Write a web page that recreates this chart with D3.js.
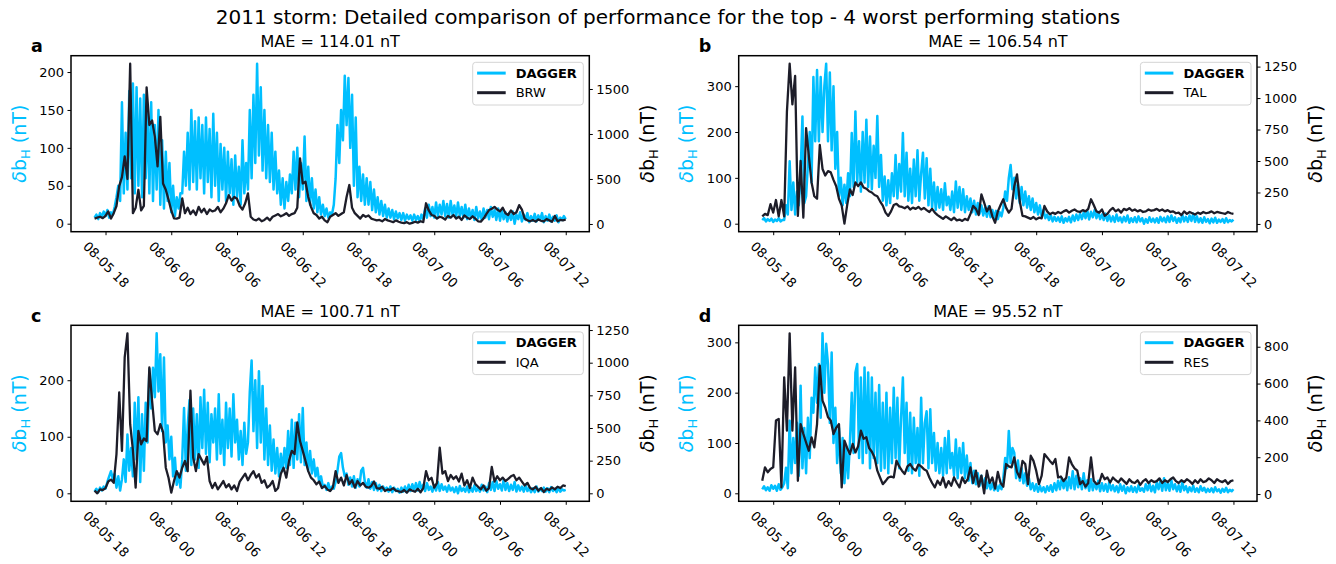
<!DOCTYPE html>
<html>
<head>
<meta charset="utf-8">
<script src="https://cdn.jsdelivr.net/npm/d3@7"></script>
<style>
  body { margin: 0; background: #fff; }
  svg text { font-family: "DejaVu Sans", sans-serif; }
</style>
</head>
<body>
<svg id="chart" width="1336" height="564"></svg>
<script>
// ---- data ----------------------------------------------------------------
const figureTitle = "2011 storm: Detailed comparison of performance for the top - 4 worst performing stations";
const seriesStart = "2011-08-05T17:00:00Z";
const daggerStepMin = 10;   // DAGGER forecast sampling (minutes)
const stationStepMin = 15;  // observed station sampling (minutes)

const panelLetters = ["a", "b", "c", "d"];
const stationNames = ["BRW", "TAL", "IQA", "RES"];
const maeValues = [114.01, 106.54, 100.71, 95.52];

const timeTicks = ["2011-08-05T18:00Z", "2011-08-06T00:00Z", "2011-08-06T06:00Z", "2011-08-06T12:00Z",
                   "2011-08-06T18:00Z", "2011-08-07T00:00Z", "2011-08-07T06:00Z", "2011-08-07T12:00Z"];

const leftTicksA = [0, 50, 100, 150, 200];
const leftTicksB = [0, 100, 200, 300];
const leftTicksC = [0, 100, 200];
const leftTicksD = [0, 100, 200, 300];
const rightTicksA = [0, 500, 1000, 1500];
const rightTicksB = [0, 250, 500, 750, 1000, 1250];
const rightTicksC = [0, 250, 500, 750, 1000, 1250];
const rightTicksD = [0, 200, 400, 600, 800];

// DAGGER predicted dB_H (nT), one row per hour, 10-minute samples
const daggerBRW = [
  8, 12, 6, 14, 9, 16,
  10, 18, 8, 15, 12, 22,
  35, 50, 30, 160, 40, 120,
  45, 175, 60, 185, 40, 180,
  50, 165, 35, 170, 60, 150,
  40, 160, 30, 130, 45, 150,
  25, 110, 20, 95, 30, 80,
  15, 50, 10, 35, 20, 40,
  40, 95, 50, 120, 45, 150,
  55, 135, 45, 140, 60, 130,
  40, 140, 55, 125, 35, 145,
  50, 120, 30, 105, 45, 100,
  30, 95, 40, 85, 25, 90,
  35, 75, 25, 110, 40, 80,
  45, 150, 60, 170, 80, 211,
  90, 180, 70, 150, 60, 130,
  55, 120, 45, 95, 40, 70,
  25, 60, 20, 55, 30, 65,
  40, 95, 45, 100, 35, 80,
  45, 115, 30, 75, 25, 60,
  20, 45, 15, 35, 12, 25,
  10, 20, 8, 15, 12, 25,
  60, 130, 80, 150, 110, 195,
  130, 192, 100, 170, 50, 140,
  35, 75, 30, 65, 25, 60,
  25, 55, 18, 45, 15, 35,
  12, 30, 10, 25, 8, 20,
  8, 18, 6, 16, 7, 14,
  5, 14, 4, 12, 6, 11,
  4, 12, 5, 10, 3, 12,
  6, 20, 8, 25, 10, 22,
  8, 28, 10, 25, 12, 30,
  10, 26, 8, 30, 12, 24,
  9, 28, 10, 22, 8, 25,
  6, 20, 8, 18, 5, 22,
  7, 16, 5, 20, 8, 18,
  6, 22, 9, 18, 5, 20,
  4, 18, 6, 15, 3, 14,
  5, 16, 0, 12, 6, 15,
  3, 12, 5, 14, 2, 10,
  4, 13, 3, 11, 5, 14,
  2, 10, 4, 12, 3, 9,
  4, 11, 2, 8, 5, 10,
  6
];
const daggerTAL = [
  8, 12, 5, 10, 6, 11,
  4, 9, 6, 12, 5, 8,
  8, 40, 20, 136, 30, 90,
  20, 70, 40, 110, 234, 45,
  60, 130, 200, 90, 320, 180,
  335, 180, 320, 200, 300, 349,
  180, 330, 160, 300, 120, 200,
  60, 100, 40, 85, 45, 110,
  60, 198, 80, 245, 90, 180,
  70, 200, 90, 227, 80, 190,
  75, 170, 100, 235, 80, 150,
  50, 103, 40, 95, 45, 110,
  60, 150, 55, 130, 70, 198,
  60, 155, 50, 120, 45, 140,
  60, 160, 50, 110, 155, 55,
  143, 40, 120, 35, 90, 30,
  80, 35, 75, 30, 88, 40,
  59, 30, 70, 25, 92, 35,
  80, 30, 75, 25, 60, 30,
  55, 25, 50, 20, 45, 22,
  40, 18, 35, 15, 38, 14,
  30, 12, 28, 10, 25, 16,
  35, 70, 50, 100, 128, 75,
  100, 55, 90, 45, 80, 40,
  70, 35, 60, 30, 55, 25,
  45, 20, 40, 15, 30, 12,
  20, 8, 18, 5, 15, 6,
  14, 4, 16, 2, 12, 5,
  15, 3, 18, 6, 20, 8,
  22, 10, 25, 12, 28, 9,
  26, 14, 30, 12, 24, 10,
  20, 8, 22, 6, 18, 5,
  16, 4, 20, 6, 14, 3,
  15, 5, 18, 2, 12, 4,
  14, 3, 16, 5, 12, 0,
  10, 2, 14, 4, 11, 3,
  12, 2, 15, 5, 13, 3,
  16, 4, 18, 6, 14, 2,
  12, 3, 20, 5, 15, 4,
  18, 6, 22, 4, 16, 3,
  12, 2, 14, 4, 10, 1,
  11, 3, 13, 2, 9, 4,
  10, 2, 12, 3, 8, 5,
  9
];
const daggerIQA = [
  3, 8, 2, 10, 5, 12,
  8, 20, 30, 39, 25, 35,
  10, 30, 5, 25, 60, 20,
  104, 40, 80, 30, 160, 60,
  170, 20, 140, 40, 160, 90,
  220, 150, 222, 170, 283, 180,
  246, 110, 240, 90, 120, 60,
  100, 30, 63, 15, 35, 10,
  60, 151, 40, 120, 165, 50,
  150, 60, 140, 45, 170, 80,
  183, 70, 160, 55, 140, 90,
  150, 60, 175, 70, 130, 50,
  160, 80, 150, 65, 175, 90,
  130, 60, 110, 50, 125, 70,
  90, 180, 235, 110, 200, 80,
  216, 90, 190, 60, 150, 50,
  120, 40, 95, 35, 80, 30,
  70, 40, 80, 45, 110, 50,
  130, 45, 125, 60, 140, 55,
  151, 50, 90, 40, 75, 35,
  60, 30, 45, 20, 30, 12,
  15, 6, 18, 5, 12, 8,
  20, 40, 65, 71, 45, 30,
  35, 15, 28, 12, 30, 10,
  25, 12, 40, 45, 20, 10,
  25, 8, 20, 6, 18, 5,
  15, 4, 12, 6, 10, 3,
  12, 2, 10, 4, 8, 1,
  10, 3, 12, 2, 15, 4,
  16, 6, 18, 5, 20, 8,
  15, 4, 18, 6, 12, 3,
  14, 5, 20, 4, 16, 6,
  12, 3, 14, 5, 10, 2,
  11, 0, 13, 4, 9, 3,
  12, 2, 10, 3, 14, 4,
  10, 3, 15, 5, 12, 2,
  18, 6, 20, 4, 22, 8,
  16, 5, 24, 6, 18, 4,
  15, 6, 20, 3, 14, 5,
  12, 3, 15, 4, 10, 2,
  9, 2, 12, 3, 8, 4,
  10, 3, 9, 2, 11, 4,
  8, 2, 10, 3, 7, 5,
  6
];
const daggerRES = [
  8, 14, 6, 12, 5, 16,
  9, 15, 5, 18, 7, 12,
  20, 51, 10, 144, 40, 110,
  60, 140, 35, 214, 50, 130,
  40, 150, 70, 190, 160, 250,
  180, 257, 150, 318, 200, 297,
  257, 140, 280, 100, 170, 60,
  130, 40, 110, 20, 90, 30,
  100, 200, 80, 240, 257, 70,
  230, 60, 250, 80, 240, 50,
  230, 70, 200, 60, 215, 45,
  180, 50, 200, 40, 170, 60,
  210, 70, 190, 50, 150, 230,
  80, 180, 45, 160, 40, 150,
  60, 130, 35, 190, 60, 140,
  163, 50, 167, 60, 120, 45,
  100, 40, 90, 35, 110, 40,
  124, 50, 80, 35, 107, 30,
  90, 40, 100, 30, 75, 25,
  60, 20, 45, 18, 40, 15,
  35, 12, 30, 10, 25, 8,
  20, 6, 18, 5, 16, 8,
  30, 70, 50, 124, 60, 90,
  80, 30, 65, 25, 50, 20,
  40, 15, 30, 8, 20, 5,
  18, 3, 15, 4, 12, 2,
  14, 5, 16, 3, 20, 6,
  25, 8, 30, 10, 28, 6,
  32, 10, 44, 8, 35, 12,
  30, 8, 40, 10, 26, 5,
  28, 6, 22, 8, 25, 4,
  20, 5, 18, 3, 22, 6,
  16, 4, 14, 2, 18, 5,
  15, 0, 12, 4, 14, 3,
  12, 2, 16, 5, 10, 3,
  18, 6, 20, 4, 15, 2,
  22, 8, 25, 5, 30, 6,
  20, 5, 26, 8, 18, 4,
  16, 3, 22, 6, 14, 2,
  12, 4, 15, 3, 10, 2,
  14, 5, 11, 2, 9, 3,
  10, 2, 12, 4, 8, 1,
  9, 3, 11, 2, 7, 4,
  8
];

// Observed station dB_H (nT), one row per hour, 15-minute samples
const obsBRW = [
  60, 70, 80, 65,
  90, 140, 60, 120,
  200, 420, 520, 750,
  500, 1781, 120, 180,
  380, 150, 200, 1518,
  1100, 1150, 970, 640,
  1190, 450, 380, 270,
  150, 63, 60, 70,
  285, 120, 180, 110,
  150, 100, 190, 130,
  170, 110, 160, 140,
  150, 190, 130, 170,
  230, 320, 260, 300,
  280, 200, 160, 230,
  340, 80, 50, 40,
  60, 30, 45, 70,
  40, 80, 95, 110,
  85, 100, 120, 90,
  110, 120, 180, 730,
  450, 470, 300, 190,
  120, 100, 60, 80,
  40, 20, 80, 100,
  120, 90, 110, 130,
  300, 433, 180, 120,
  90, 60, 100, 80,
  95, 60, 50, 40,
  45, 30, 55, 40,
  30, 20, 40, 25,
  15, 10, 20, 3,
  12, 25, 15, 30,
  20, 230, 150, 100,
  90, 60, 80, 70,
  50, 90, 70, 100,
  60, 80, 45, 95,
  70, 55, 85, 60,
  30, 26, 60, 110,
  155, 170, 190, 160,
  140, 180, 120, 100,
  150, 110, 130, 210,
  160, 60, 40, 30,
  45, 26, 50, 35,
  30, 55, 40, 25,
  90, 30, 45, 40,
  50
];
const obsTAL = [
  60, 80, 70, 157,
  90, 190, 60, 190,
  60, 890, 1273, 950,
  1176, 64, 500, 50,
  762, 540, 330, 220,
  200, 627, 437, 385,
  420, 410, 350, 300,
  200, 146, 2, 150,
  275, 230, 330, 300,
  330, 290, 280, 260,
  250, 230, 220, 180,
  146, 90, 64, 100,
  150, 160, 140, 135,
  125, 140, 115, 130,
  120, 135, 115, 127,
  110, 95, 120, 90,
  70, 55, 40, 60,
  45, 30, 50, 28,
  35, 24, 40, 30,
  80, 143, 120, 70,
  235, 170, 100, 140,
  60, 10, 100, 150,
  196, 130, 90, 120,
  300, 394, 180, 64,
  60, 50, 40, 55,
  37, 50, 45, 143,
  100, 77, 90, 80,
  95, 85, 100, 110,
  90, 105, 115, 100,
  95, 110, 100, 120,
  196, 150, 100, 90,
  115, 64, 80, 110,
  127, 100, 115, 90,
  120, 110, 125, 105,
  115, 100, 110, 95,
  100, 115, 105, 110,
  120, 105, 115, 100,
  110, 95, 100, 85,
  90, 70, 100, 80,
  95, 85, 75, 90,
  80, 95, 85, 90,
  100, 85, 95, 90,
  85, 80, 95, 85,
  80
];
const obsIQA = [
  20, 0, 30, 25,
  40, 90, 105, 80,
  300, 772, 325, 1040,
  1225, 529, 330, 43,
  478, 375, 420, 400,
  963, 707, 478, 452,
  529, 470, 196, 119,
  5, 94, 170, 120,
  196, 247, 170, 785,
  274, 170, 300, 260,
  220, 280, 94, 40,
  80, 30, 60, 94,
  45, 70, 30, 60,
  18, 90, 120, 150,
  100, 140, 170, 120,
  146, 80, 100, 43,
  60, 94, 18, 40,
  150, 196, 120, 250,
  325, 300, 542, 400,
  325, 248, 170, 120,
  100, 69, 90, 40,
  56, 30, 18, 45,
  170, 80, 120, 60,
  140, 70, 100, 43,
  94, 60, 80, 50,
  43, 56, 90, 40,
  35, 50, 18, 30,
  25, 40, 20, 15,
  10, 25, 5, 30,
  20, 12, 35, 8,
  40, 170, 100, 119,
  43, 80, 350, 150,
  170, 94, 140, 110,
  130, 90, 150, 60,
  100, 40, 120, 70,
  50, 30, 60, 20,
  40, 202, 90, 130,
  100, 120, 94, 110,
  130, 140, 100, 120,
  90, 60, 80, 40,
  30, 50, 20, 40,
  10, 35, 25, 45,
  30, 50, 40, 60,
  55
];
const obsRES = [
  72, 145, 118, 136,
  145, 399, 408, 36,
  634, 344, 873, 344,
  688, 72, 380, 326,
  280, 235, 308, 254,
  380, 697, 507, 470,
  417, 400, 326, 360,
  380, 36, 290, 250,
  217, 272, 226, 260,
  344, 300, 308, 250,
  230, 199, 127, 90,
  54, 70, 90, 95,
  90, 181, 150, 127,
  109, 150, 163, 140,
  127, 160, 150, 135,
  127, 90, 60, 36,
  72, 50, 90, 36,
  70, 45, 90, 60,
  36, 90, 60, 80,
  145, 60, 127, 40,
  100, 4, 127, 60,
  90, 30, 120, 60,
  40, 163, 150, 145,
  199, 120, 90, 180,
  163, 54, 208, 180,
  127, 54, 100, 217,
  199, 180, 163, 190,
  90, 95, 70, 90,
  199, 163, 140, 127,
  54, 70, 40, 60,
  199, 72, 54, 60,
  109, 80, 90, 63,
  90, 75, 63, 85,
  70, 55, 80, 65,
  60, 75, 50, 70,
  80, 60, 75, 65,
  70, 85, 60, 75,
  65, 80, 90, 70,
  60, 75, 65, 80,
  70, 55, 75, 60,
  80, 65, 70, 85,
  75, 60, 80, 70,
  65, 75, 55, 70,
  75
];

// ---- panel table -----------------------------------------------------------
const panels = [
  { letter: panelLetters[0], station: stationNames[0], mae: maeValues[0], dagger: daggerBRW, obs: obsBRW, leftTicks: leftTicksA, rightTicks: rightTicksA },
  { letter: panelLetters[1], station: stationNames[1], mae: maeValues[1], dagger: daggerTAL, obs: obsTAL, leftTicks: leftTicksB, rightTicks: rightTicksB },
  { letter: panelLetters[2], station: stationNames[2], mae: maeValues[2], dagger: daggerIQA, obs: obsIQA, leftTicks: leftTicksC, rightTicks: rightTicksC },
  { letter: panelLetters[3], station: stationNames[3], mae: maeValues[3], dagger: daggerRES, obs: obsRES, leftTicks: leftTicksD, rightTicks: rightTicksD }
];

// ---- layout & style --------------------------------------------------------
const W = 518.3, H = 176;
const panelOrigins = [[71, 55.7], [738.7, 55.7], [71, 325.3], [738.7, 325.3]];
const CYAN = "#00bfff";
const DARK = "#1d1d29";
const TICK_FS = 13;

const svg = d3.select("#chart");

svg.append("text")
  .attr("x", 668).attr("y", 24)
  .attr("text-anchor", "middle")
  .style("font-size", "20px")
  .attr("fill", "#000")
  .text(figureTitle);

const t0 = d3.isoParse(seriesStart);
const stamp = step => (v, i) => ({ t: new Date(+t0 + i * step * 60000), v });
const padExtent = vals => {
  const [lo, hi] = d3.extent(vals);
  const m = 0.05 * (hi - lo);
  return [lo - m, hi + m];
};

function axisLabel(g, x, color) {
  // δb_H (nT), rotated to read bottom-to-top
  const fs = 19;
  const t = g.append("text")
    .attr("transform", `translate(${x + fs * 0.35},${H / 2}) rotate(-90)`)
    .attr("text-anchor", "middle")
    .attr("fill", color)
    .style("font-size", fs + "px");
  t.append("tspan").style("font-style", "italic").text("δ");
  t.append("tspan").text("b");
  t.append("tspan").attr("dy", 4).style("font-size", "13px").text("H");
  t.append("tspan").attr("dy", -4).text(" (nT)");
}

panels.forEach((p, k) => {
  const [ox, oy] = panelOrigins[k];
  const g = svg.append("g").attr("transform", `translate(${ox},${oy})`);

  const dag = p.dagger.map(stamp(daggerStepMin));
  const obs = p.obs.map(stamp(stationStepMin));
  const tEnd = d3.max([dag[dag.length - 1].t, obs[obs.length - 1].t]);
  const span = tEnd - t0;

  const x = d3.scaleUtc()
    .domain([new Date(+t0 - 0.05 * span), new Date(+tEnd + 0.05 * span)])
    .range([0, W]);
  const yL = d3.scaleLinear().domain(padExtent(p.dagger)).range([H, 0]);
  const yR = d3.scaleLinear().domain(padExtent(p.obs)).range([H, 0]);

  // series
  g.append("path")
    .datum(dag)
    .attr("fill", "none")
    .attr("stroke", CYAN)
    .attr("stroke-width", 2.5)
    .attr("stroke-linejoin", "round")
    .attr("d", d3.line().x(d => x(d.t)).y(d => yL(d.v)));

  g.append("path")
    .datum(obs)
    .attr("fill", "none")
    .attr("stroke", DARK)
    .attr("stroke-width", 2.3)
    .attr("stroke-linejoin", "round")
    .attr("d", d3.line().x(d => x(d.t)).y(d => yR(d.v)));

  // axes
  const styleAxis = sel => {
    sel.select(".domain").remove();
    sel.selectAll(".tick line").attr("stroke", "#000").attr("stroke-width", 1);
    sel.selectAll(".tick text").attr("fill", "#000").style("font-size", TICK_FS + "px");
  };

  g.append("g")
    .call(d3.axisLeft(yL).tickValues(p.leftTicks).tickFormat(d3.format("d")).tickSize(3.5).tickPadding(3.5))
    .call(styleAxis);

  g.append("g")
    .attr("transform", `translate(${W},0)`)
    .call(d3.axisRight(yR).tickValues(p.rightTicks).tickFormat(d3.format("d")).tickSize(3.5).tickPadding(3.5))
    .call(styleAxis);

  const xa = g.append("g")
    .attr("transform", `translate(0,${H})`)
    .call(d3.axisBottom(x)
      .tickValues(timeTicks.map(d3.isoParse))
      .tickFormat(d3.utcFormat("%m-%d %H"))
      .tickSize(3.5))
    .call(styleAxis);

  xa.selectAll(".tick text").each(function () {
    const len = this.getComputedTextLength();
    const boxH = (len + TICK_FS * 1.17) * Math.SQRT1_2;
    d3.select(this)
      .attr("y", null).attr("dy", null)
      .attr("text-anchor", "middle")
      .attr("dominant-baseline", "central")
      .attr("transform", `translate(0,${7 + boxH / 2}) rotate(45)`);
  });

  // frame
  g.append("rect")
    .attr("width", W).attr("height", H)
    .attr("fill", "none")
    .attr("stroke", "#000")
    .attr("stroke-width", 1.5);

  // axis labels
  axisLabel(g, -52, CYAN);
  axisLabel(g, W + 58.2, "#000");

  // subplot title and letter
  g.append("text")
    .attr("x", W / 2).attr("y", -8.7)
    .attr("text-anchor", "middle")
    .style("font-size", "16px")
    .attr("fill", "#000")
    .text(`MAE = ${p.mae.toFixed(2)} nT`);

  g.append("text")
    .attr("x", -40).attr("y", -3.7)
    .style("font-size", "17.5px")
    .style("font-weight", "bold")
    .attr("fill", "#000")
    .text(p.letter);

  // legend
  const lw = 110.6, lh = 42.7;
  const lg = g.append("g").attr("transform", `translate(${W - 6 - lw},6.6)`);
  lg.append("rect")
    .attr("width", lw).attr("height", lh)
    .attr("rx", 3)
    .attr("fill", "#fff").attr("fill-opacity", 0.8)
    .attr("stroke", "#d4d4d4").attr("stroke-width", 1);
  const entries = [
    { label: "DAGGER", color: CYAN, bold: true, y: 10.8 },
    { label: p.station, color: DARK, bold: false, y: 30.4 }
  ];
  entries.forEach(e => {
    lg.append("line")
      .attr("x1", 4.4).attr("x2", 33)
      .attr("y1", e.y).attr("y2", e.y)
      .attr("stroke", e.color).attr("stroke-width", 3);
    lg.append("text")
      .attr("x", 43).attr("y", e.y)
      .attr("dominant-baseline", "central")
      .style("font-size", "13px")
      .style("font-weight", e.bold ? "bold" : "normal")
      .attr("fill", "#000")
      .text(e.label);
  });
});
</script>
</body>
</html>
